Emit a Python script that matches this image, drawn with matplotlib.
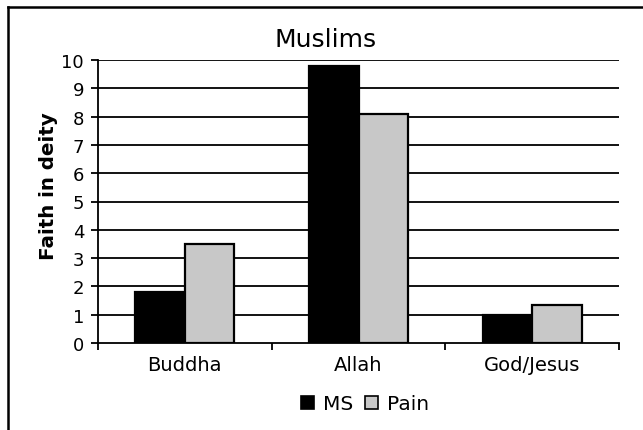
import numpy as np
from matplotlib import pyplot as plt
from matplotlib.patches import Patch
from matplotlib.lines import Line2D

deities = ['Buddha', 'Allah', 'God/Jesus']
ms_faith = [1.8, 9.8, 1.0]
pain_faith = [3.5, 8.1, 1.35]
series_names = ['MS', 'Pain']
series_colors = ['#000000', '#c8c8c8']

plt.rcParams['font.family'] = 'DejaVu Sans'

fig = plt.figure(figsize=(6.43, 4.31), dpi=100)
ax = fig.add_axes([98 / 643, 87 / 431, 521 / 643, 283 / 431])

x = np.arange(len(deities))
w = 0.285
for vals, off, col in [(ms_faith, -w / 2, series_colors[0]), (pain_faith, w / 2, series_colors[1])]:
    ax.bar(x + off, vals, width=w, color=col, edgecolor='black', linewidth=1.6, zorder=3)

# horizontal gridlines at every unit
for yv in range(1, 11):
    ax.axhline(yv, color='black', linewidth=1.3, zorder=1)

ax.set_xlim(-0.5, len(deities) - 0.5)
ax.set_ylim(0, 10)
ax.set_yticks(range(0, 11))
ax.set_xticks(x)
ax.set_xticklabels(deities)
ax.set_xticks(np.arange(-0.5, len(deities), 1.0), minor=True)
ax.tick_params(axis='x', which='major', length=0, pad=9, labelsize=14)
ax.tick_params(axis='x', which='minor', length=5, width=1.3, direction='out')
ax.tick_params(axis='y', length=5, width=1.3, direction='out', pad=5, labelsize=13)

for s in ['top', 'right']:
    ax.spines[s].set_visible(False)
ax.spines['left'].set_linewidth(1.3)
ax.spines['bottom'].set_linewidth(1.3)

fig.text(326 / 643, 1 - 40 / 431, 'Muslims', ha='center', va='center', fontsize=18)
fig.text(49 / 643, 1 - 186 / 431, 'Faith in deity', rotation=90, ha='center', va='center',
         fontsize=14.3, fontweight='bold')

handles = [Patch(facecolor=c, edgecolor='black', linewidth=1.2) for c in series_colors]
fig.legend(handles, series_names, loc='center', bbox_to_anchor=(365 / 643, 1 - 405 / 431),
           ncol=2, frameon=False, fontsize=14.5, handlelength=0.65, handleheight=0.65,
           handletextpad=0.45, columnspacing=0.6)

# outer chart frame (left and top edges visible)
fig.add_artist(Line2D([7.5 / 643, 7.5 / 643], [0, 1 - 8 / 431], color='black', linewidth=1.8))
fig.add_artist(Line2D([7.5 / 643, 1], [1 - 8 / 431, 1 - 8 / 431], color='black', linewidth=1.8))

fig.savefig('out.png', dpi=100)
